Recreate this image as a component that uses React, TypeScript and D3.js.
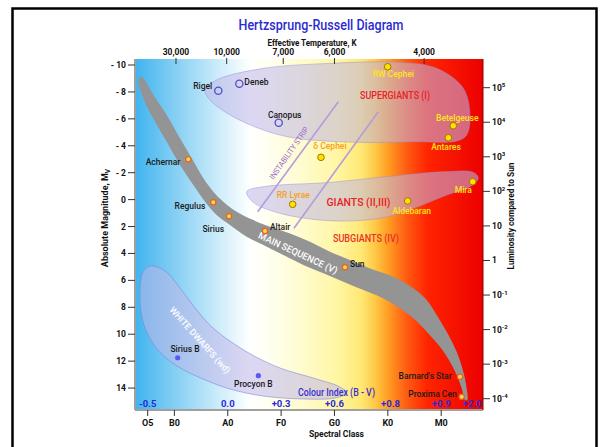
import React from "react";
import * as d3 from "d3";

// ---------- DATA ----------
const magTicks = [-10, -8, -6, -4, -2, 0, 2, 4, 6, 8, 10, 12, 14];
const lumTicks = [1e5, 1e4, 1e3, 1e2, 10, 1, 1e-1, 1e-2, 1e-3, 1e-4];
const lumExp = [5, 4, 3, 2, 1, 0, -1, -2, -3, -4];
const tempLabels = ["30,000", "10,000", "7,000", "6,000", "4,000"];
const tempSpec = [1.03, 1.98, 3.04, 4.0, 5.68];
const spectralLabels = ["O5", "B0", "A0", "F0", "G0", "K0", "M0"];
const spectralPos = [0.5, 1, 2, 3, 4, 5, 6];
const colourLabels = ["-0.5", "0.0", "+0.3", "+0.6", "+0.8", "+0.9", "+2.0"];
const colourPos = [0.5, 2, 3, 4, 5.05, 6, 6.58];

// main sequence band edges [spectral index, magnitude]
const msLower: [number, number][] = [
  [0.325, -8.89], [0.418, -7.52], [0.637, -5.79], [0.856, -4.3], [1.105, -2.57],
  [1.355, -1.08], [1.574, 0.15], [1.793, 1.14], [2.042, 1.89], [2.355, 2.75],
  [2.667, 3.37], [3.041, 4.12], [3.416, 4.86], [3.791, 5.48], [4.166, 6.1],
  [4.541, 6.72], [4.915, 7.34], [5.228, 8.08], [5.477, 8.82], [5.727, 9.81],
  [5.977, 10.93], [6.164, 12.04], [6.289, 13.03], [6.383, 14.02], [6.446, 14.89],
];
const msUpper: [number, number][] = [
  [0.387, -9.13], [0.606, -7.77], [0.856, -6.29], [1.105, -4.55], [1.324, -3.07],
  [1.543, -1.58], [1.73, -0.59], [1.917, 0.15], [2.167, 0.9], [2.479, 1.52],
  [2.792, 2.01], [3.167, 2.51], [3.541, 3.13], [3.916, 3.87], [4.291, 4.49],
  [4.666, 5.11], [5.103, 5.73], [5.477, 6.59], [5.727, 7.46], [5.915, 8.57],
  [6.102, 9.81], [6.289, 11.3], [6.414, 12.78], [6.477, 14.02], [6.489, 14.89],
];
const supergiantRegion: [number, number][] = [
  [1.574, -8.14], [1.793, -8.89], [2.667, -9.75], [3.916, -10.12], [5.165, -10.2],
  [5.915, -9.75], [6.414, -8.27], [6.539, -6.29], [6.477, -4.8], [6.289, -4.35],
  [5.477, -4.3], [4.541, -4.25], [3.292, -4.55], [2.667, -5.17], [2.042, -6.29],
  [1.668, -7.4],
];
const giantRegion: [number, number][] = [
  [2.355, -0.59], [2.667, -0.96], [3.916, -1.28], [5.165, -1.78], [6.102, -2.08],
  [6.602, -2.03], [6.695, -1.58], [6.539, -0.96], [6.102, -0.34], [5.477, 0.65],
  [4.853, 1.39], [3.916, 1.57], [2.979, 1.02], [2.479, 0.2],
];
const whiteDwarfRegion: [number, number][] = [
  [0.543, 4.93], [0.824, 5.3], [1.105, 6.57], [1.387, 8.05], [1.724, 9.54],
  [2.361, 11.32], [2.979, 12.51], [3.598, 13.25], [4.103, 13.92], [4.234, 14.37],
  [4.01, 14.74], [3.41, 14.81], [2.661, 14.59], [2.042, 14.07], [1.536, 13.33],
  [1.049, 12.36], [0.675, 11.1], [0.412, 9.09], [0.356, 6.72], [0.412, 5.38],
];
const instabilityLines: [number, number][][] = [
  [[2.561, 0.9], [4.072, -7.27]],
  [[3.241, 2.13], [4.821, -6.53]],
];

const starNames = [
  "Rigel", "Deneb", "Canopus", "RW Cephei", "Betelgeuse", "Antares", "δ Cephei",
  "RR Lyrae", "Aldebaran", "Mira", "Achernar", "Regulus", "Sirius", "Altair", "Sun",
  "Barnard's Star", "Proxima Cen", "Sirius B", "Procyon B",
];
const starSpec = [1.823, 2.217, 2.955, 4.997, 6.226, 6.133, 3.747, 3.217, 5.372, 6.59,
  1.261, 1.729, 2.024, 2.698, 4.197, 6.352, 6.384, 1.062, 2.573];
const starMag = [-8.09, -8.61, -5.71, -9.87, -5.49, -4.6, -3.14, 0.35, 0.1, -1.33,
  -2.99, 0.2, 1.24, 2.33, 5.03, 13.16, 14.64, 11.75, 13.08];
const starKind = ["hot", "hot", "hot", "giant", "giant", "giant", "variable",
  "variable", "giant", "giant", "ms", "ms", "ms", "ms", "ms", "ms", "ms", "wd", "wd"];

// ---------- STYLE ----------
const labelStyle: Record<string, { dx: number; dy: number; anchor: string }> = {
  "Rigel": { dx: -6, dy: -5, anchor: "end" },
  "Deneb": { dx: 5, dy: -1.4, anchor: "start" },
  "Canopus": { dx: 6, dy: -8, anchor: "middle" },
  "RW Cephei": { dx: 5.6, dy: 7.6, anchor: "middle" },
  "Betelgeuse": { dx: 4, dy: -8, anchor: "middle" },
  "Antares": { dx: -2.3, dy: 9.3, anchor: "middle" },
  "δ Cephei": { dx: 9, dy: -11, anchor: "middle" },
  "RR Lyrae": { dx: 0.6, dy: -9.3, anchor: "middle" },
  "Aldebaran": { dx: 4, dy: 9.7, anchor: "middle" },
  "Mira": { dx: -9.4, dy: 8.3, anchor: "middle" },
  "Achernar": { dx: -8, dy: 3, anchor: "end" },
  "Regulus": { dx: -8, dy: 3.7, anchor: "end" },
  "Sirius": { dx: -5, dy: 12.7, anchor: "end" },
  "Altair": { dx: 5, dy: -3.7, anchor: "start" },
  "Sun": { dx: 5, dy: -3, anchor: "start" },
  "Barnard's Star": { dx: -8.3, dy: -0.7, anchor: "end" },
  "Proxima Cen": { dx: -5, dy: -2.4, anchor: "end" },
  "Sirius B": { dx: 7.3, dy: -8.4, anchor: "middle" },
  "Procyon B": { dx: -5, dy: 8.3, anchor: "middle" },
};
const labelColor: Record<string, string> = {
  hot: "#1a1a1a", giant: "#ffe61a", variable: "#f5a020", ms: "#1a1a1a", wd: "#1a1a1a",
};

const FONT = "Roboto, 'Liberation Sans', sans-serif";
const PL = 135, PR = 483, PT = 59, PB = 410;
const fit = { lengthAdjust: "spacingAndGlyphs" as const };

export default function App() {
  const x = d3.scaleLinear().domain([0.262, 6.783]).range([PL, PR]);
  const y = d3.scaleLinear().domain([-10.446, 15.63]).range([PT, PB]);
  const lum = d3.scaleLog().domain([1e-4, 1e5]).range([398.7, 87.7]);

  const closed = d3.line<[number, number]>()
    .x((d) => x(d[0])).y((d) => y(d[1]))
    .curve(d3.curveCatmullRomClosed.alpha(0.5));
  const msPoly = [...msLower, ...msUpper.slice().reverse()];
  const straight = d3.line<[number, number]>().x((d) => x(d[0])).y((d) => y(d[1]));

  const gradStops: [number, string][] = [
    [0, "#3fb4ee"], [0.1, "#7ccbf3"], [0.24, "#cdecfa"], [0.33, "#ffffff"],
    [0.38, "#fffff2"], [0.47, "#fffcd2"], [0.58, "#fff6a4"], [0.65, "#ffe874"],
    [0.69, "#ffc846"], [0.73, "#ff9a22"], [0.78, "#ff5c12"], [0.84, "#ff2400"],
    [1, "#ec0000"],
  ];

  return (
    <svg width={602} height={447} style={{ position: "absolute", left: 0, top: 0, background: "#fff" }}
      fontFamily={FONT}>
      <defs>
        <linearGradient id="bg" x1="0" x2="1" y1="0" y2="0">
          {gradStops.map(([o, c], i) => <stop key={i} offset={o} stopColor={c} />)}
        </linearGradient>
        <clipPath id="plotClip"><rect x={PL} y={PT} width={PR - PL} height={PB - PT} /></clipPath>
      </defs>
      <rect x={12.5} y={8.5} width={584} height={460} fill="none" stroke="#000" strokeWidth={2.5} />

      <text x={321} y={30} textAnchor="middle" fontSize={14.5} fontWeight={500} fill="#2b2bd0" textLength={165} {...fit}>Hertzsprung-Russell Diagram</text>
      <text x={312} y={46} textAnchor="middle" fontSize={8.5} fontWeight="bold" fill="#111" textLength={89} {...fit}>Effective Temperature, K</text>

      <rect x={PL} y={PT} width={PR - PL} height={PB - PT} fill="url(#bg)" />

      <g clipPath="url(#plotClip)">
        <path d={closed(supergiantRegion) || ""} fill="rgb(192,182,232)" fillOpacity={0.55}
          stroke="rgb(150,140,215)" strokeOpacity={0.6} strokeWidth={0.8} />
        <path d={closed(giantRegion) || ""} fill="rgb(192,182,232)" fillOpacity={0.55}
          stroke="rgb(150,140,215)" strokeOpacity={0.6} strokeWidth={0.8} />
        <path d={closed(whiteDwarfRegion) || ""} fill="rgb(192,182,232)" fillOpacity={0.55}
          stroke="rgb(120,130,220)" strokeOpacity={0.7} strokeWidth={0.8} />
        {instabilityLines.map((l, i) => (
          <path key={i} d={straight(l) || ""} stroke="#b39ddb" strokeWidth={1.6} fill="none" />
        ))}
        <path d={closed(msPoly) || ""} fill="#949494" />
      </g>

      {/* region labels */}
      <text x={395} y={99} textAnchor="middle" fontSize={10.5} fontWeight={500} fill="#e8202a" textLength={70} {...fit}>SUPERGIANTS (I)</text>
      <text x={358.5} y={205.5} textAnchor="middle" fontSize={10.5} fontWeight={500} fill="#e8202a" textLength={64} {...fit}>GIANTS (II,III)</text>
      <text x={366} y={242} textAnchor="middle" fontSize={10.5} fontWeight={500} fill="#e8302a" textLength={66} {...fit}>SUBGIANTS (IV)</text>
      <text transform={`translate(298,253) rotate(25)`} textAnchor="middle" dy="0.35em" fontSize={9.5} fontWeight={500} fill="#fff" textLength={86} {...fit}>MAIN SEQUENCE (V)</text>
      <text transform={`translate(200,340) rotate(48)`} textAnchor="middle" dy="0.35em" fontSize={9} fontWeight={500} fill="#fff" textLength={86} {...fit}>WHITE DWARFS (wd)</text>
      <text transform={`translate(289,153) rotate(-55)`} textAnchor="middle" dy="0.35em" fontSize={8} fill="#9966cc" textLength={62} {...fit}>INSTABILITY STRIP</text>
      <text x={336.5} y={396} textAnchor="middle" fontSize={10.5} fontWeight={500} fill="#3a2fd0" textLength={77} {...fit}>Colour Index (B - V)</text>

      {/* stars */}
      {starNames.map((n, i) => {
        const k = starKind[i];
        const cx = x(starSpec[i]), cy = y(starMag[i]);
        let circ;
        if (k === "hot") circ = <circle cx={cx} cy={cy} r={3.6} fill="none" stroke="#5050c8" strokeWidth={1.3} />;
        else if (k === "giant" || k === "variable") circ = <circle cx={cx} cy={cy} r={3.3} fill="#ffe000" stroke="#9a7a00" strokeWidth={1} />;
        else if (k === "ms") circ = <circle cx={cx} cy={cy} r={2.6} fill="#ffd25a" stroke="#e06818" strokeWidth={1.2} />;
        else circ = <circle cx={cx} cy={cy} r={2.6} fill="#5a5af0" />;
        const ls = labelStyle[n];
        return (
          <g key={n}>
            {circ}
            <text x={cx + ls.dx} y={cy + ls.dy} dy="0.35em" textAnchor={ls.anchor} fontSize={8.5}
              fontWeight={500} fill={labelColor[k]}>{n}</text>
          </g>
        );
      })}

      {/* axis lines */}
      <line x1={PL} x2={PL} y1={PT} y2={PB} stroke="#a0a0a0" strokeWidth={2} />
      <line x1={PL} x2={PR} y1={PB} y2={PB} stroke="#a0a0a0" strokeWidth={2} />
      <line x1={PR} x2={PR} y1={PT} y2={PB} stroke="#8a0000" strokeWidth={1} />

      {/* left axis */}
      {magTicks.map((m) => (
        <g key={m}>
          <line x1={128} x2={PL} y1={y(m)} y2={y(m)} stroke="#333" strokeWidth={1} />
          <text x={126} y={y(m)} dy="0.35em" textAnchor="end" fontSize={8.5} fontWeight="bold" fill="#111">
            {m < 0 ? `- ${Math.abs(m)}` : `${m}`}
          </text>
        </g>
      ))}
      <text transform="translate(108,218) rotate(-90)" textAnchor="middle" fontSize={9} fontWeight="bold" fill="#111">
        Absolute Magnitude, M<tspan fontSize={6.5} dy="2">V</tspan>
      </text>

      {/* right axis */}
      {lumTicks.map((v, i) => {
        const e = lumExp[i];
        return (
          <g key={i}>
            <line x1={PR} x2={490} y1={lum(v)} y2={lum(v)} stroke="#333" strokeWidth={1} />
            <text x={492} y={lum(v)} dy="0.35em" fontSize={8.5} fontWeight="bold" fill="#111">
              {e === 0 ? "1" : e === 1 ? "10" : <>10<tspan fontSize={6} dy="-3.5">{e}</tspan></>}
            </text>
          </g>
        );
      })}
      <text transform="translate(514,216) rotate(-90)" textAnchor="middle" fontSize={9} fontWeight="bold" fill="#111" textLength={107} {...fit}>
        Luminosity compared to Sun
      </text>

      {/* top axis */}
      {tempLabels.map((t, i) => (
        <g key={t}>
          <line x1={x(tempSpec[i])} x2={x(tempSpec[i])} y1={PT - 1} y2={PT + 5} stroke="#333" strokeWidth={1} />
          <text x={x(tempSpec[i])} y={55} textAnchor="middle" fontSize={8.5} fontWeight="bold" fill="#111">{t}</text>
        </g>
      ))}

      {/* bottom axis */}
      {spectralLabels.map((s, i) => (
        <g key={s}>
          <line x1={x(spectralPos[i])} x2={x(spectralPos[i])} y1={PB} y2={PB + 6} stroke="#333" strokeWidth={1} />
          <text x={x(spectralPos[i])} y={426} textAnchor="middle" fontSize={9} fontWeight="bold" fill="#111">{s}</text>
        </g>
      ))}
      <text x={336.5} y={437} textAnchor="middle" fontSize={9} fontWeight="bold" fill="#111" textLength={55} {...fit}>Spectral Class</text>

      {colourLabels.map((c, i) => (
        <text key={c} x={x(colourPos[i])} y={404} dy="0.35em" textAnchor="middle" fontSize={9.5}
          fontWeight="bold" fill="#2a2ad8">{c}</text>
      ))}
    </svg>
  );
}
